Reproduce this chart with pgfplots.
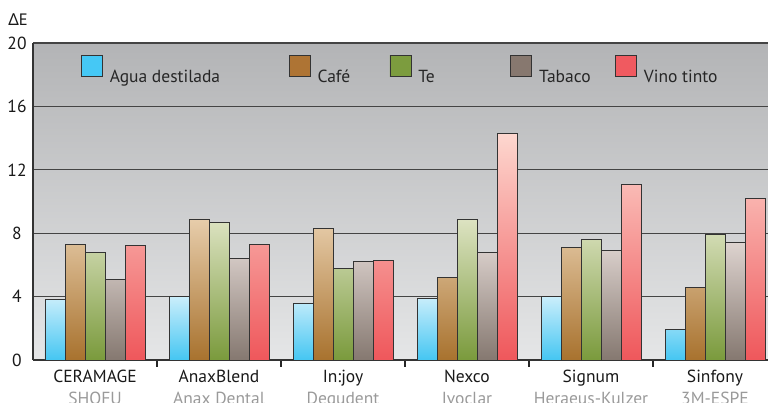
\documentclass[border=0pt]{standalone}
\usepackage{fontspec}
\setmainfont{PT Sans}
\newfontfamily\deltafont{Noto Sans}
\usepackage{pgfplots}
\pgfplotsset{compat=1.18}
\definecolor{bgtop}{HTML}{B3B4B6}
\definecolor{bgbot}{HTML}{E5E6E7}
\definecolor{blueB}{HTML}{45C6F2}\definecolor{blueT}{HTML}{CAEEFB}\definecolor{blueL}{HTML}{45C8F5}
\definecolor{brownB}{HTML}{A8722E}\definecolor{brownT}{HTML}{E7CDAB}\definecolor{brownL}{HTML}{AE7434}
\definecolor{greenB}{HTML}{7A9A3C}\definecolor{greenT}{HTML}{DDE3C2}\definecolor{greenL}{HTML}{7C9C3E}
\definecolor{tabB}{HTML}{857870}\definecolor{tabT}{HTML}{DDD3CF}\definecolor{tabL}{HTML}{87786F}
\definecolor{redB}{HTML}{EF575B}\definecolor{redT}{HTML}{FDD7CF}\definecolor{redL}{HTML}{F05A60}
\definecolor{subgray}{HTML}{9A9A9A}
\definecolor{gridc}{HTML}{444444}
\begin{document}
\begin{tikzpicture}
\useasboundingbox (0pt,0pt) rectangle (768pt,403pt);
\clip (0pt,0pt) rectangle (768pt,403pt);
\begin{axis}[
  at={(33pt,43pt)}, anchor=south west,
  scale only axis, width=744pt, height=317pt,
  xmin=-0.5, xmax=5.5, ymin=0, ymax=20,
  axis lines*=left,
  axis line style={line width=1.4pt, draw=black!80},
  axis background/.style={top color=bgtop, bottom color=bgbot},
  ytick={0,4,...,20}, ymajorgrids,
  grid style={draw=gridc, line width=1.2pt},
  xtick={0,...,5},
  minor xtick={0.5,1.5,2.5,3.5,4.5},
  major tick length=0pt, minor tick length=7pt, tick align=inside,
  minor tick style={draw=black!85, line width=1.2pt},
  xticklabels={CERAMAGE\\\textcolor{subgray}{SHOFU},
               AnaxBlend\\\textcolor{subgray}{Anax Dental},
               In:joy\\\textcolor{subgray}{Degudent},
               Nexco\\\textcolor{subgray}{Ivoclar},
               Signum\\\textcolor{subgray}{Heraeus-Kulzer},
               Sinfony\\\textcolor{subgray}{3M-ESPE}},
  xticklabel style={align=center, yshift=-7pt, font=\fontsize{17.5}{22}\selectfont, text=black!90},
  yticklabel style={anchor=center, xshift=-16pt, font=\fontsize{17.5}{20}\selectfont, text=black!90},
  /pgf/number format/assume math mode=true,
  ybar=0pt, bar width=20pt,
  legend columns=5,
  legend cell align=left,
  legend style={at={(axis description cs:0.0645,0.9164)}, anchor=west,
    draw=none, fill=none, inner sep=0pt, outer sep=0pt,
    nodes={inner sep=0pt, text=black!85},
    font=\fontsize{17.5}{20}\selectfont,
    /tikz/every odd column/.append style={column sep=7pt},
    /tikz/every even column/.append style={column sep=0pt}},
]
\addplot[draw=black!80, line width=0.8pt, top color=blueT, bottom color=blueB,
  legend image code/.code={\draw[draw=black!80,line width=0.8pt,top color=blueL,bottom color=blueL] (0pt,0pt) rectangle (21pt,21pt);}]
  coordinates {(0,3.8) (1,4.0) (2,3.6) (3,3.9) (4,4.0) (5,1.9)};
\addlegendentry{\makebox[179pt][l]{Agua destilada}}
\addplot[draw=black!80, line width=0.8pt, top color=brownT, bottom color=brownB,
  legend image code/.code={\draw[draw=black!80,line width=0.8pt,top color=brownL,bottom color=brownL] (0pt,0pt) rectangle (21pt,21pt);}]
  coordinates {(0,7.3) (1,8.9) (2,8.3) (3,5.2) (4,7.1) (5,4.6)};
\addlegendentry{\makebox[72pt][l]{Café}}
\addplot[draw=black!80, line width=0.8pt, top color=greenT, bottom color=greenB,
  legend image code/.code={\draw[draw=black!80,line width=0.8pt,top color=greenL,bottom color=greenL] (0pt,0pt) rectangle (21pt,21pt);}]
  coordinates {(0,6.8) (1,8.7) (2,5.8) (3,8.9) (4,7.6) (5,7.9)};
\addlegendentry{\makebox[92pt][l]{Te}}
\addplot[draw=black!80, line width=0.8pt, top color=tabT, bottom color=tabB,
  legend image code/.code={\draw[draw=black!80,line width=0.8pt,top color=tabL,bottom color=tabL] (0pt,0pt) rectangle (21pt,21pt);}]
  coordinates {(0,5.1) (1,6.4) (2,6.2) (3,6.8) (4,6.9) (5,7.4)};
\addlegendentry{\makebox[76pt][l]{Tabaco}}
\addplot[draw=black!80, line width=0.8pt, top color=redT, bottom color=redB,
  legend image code/.code={\draw[draw=black!80,line width=0.8pt,top color=redL,bottom color=redL] (0pt,0pt) rectangle (21pt,21pt);}]
  coordinates {(0,7.2) (1,7.3) (2,6.3) (3,14.3) (4,11.1) (5,10.2)};
\addlegendentry{Vino tinto}
\end{axis}
\node[anchor=base, font=\fontsize{16.5}{19}\selectfont, text=black!90] at (18pt,377pt) {{\deltafont Δ}E};
\end{tikzpicture}
\end{document}
